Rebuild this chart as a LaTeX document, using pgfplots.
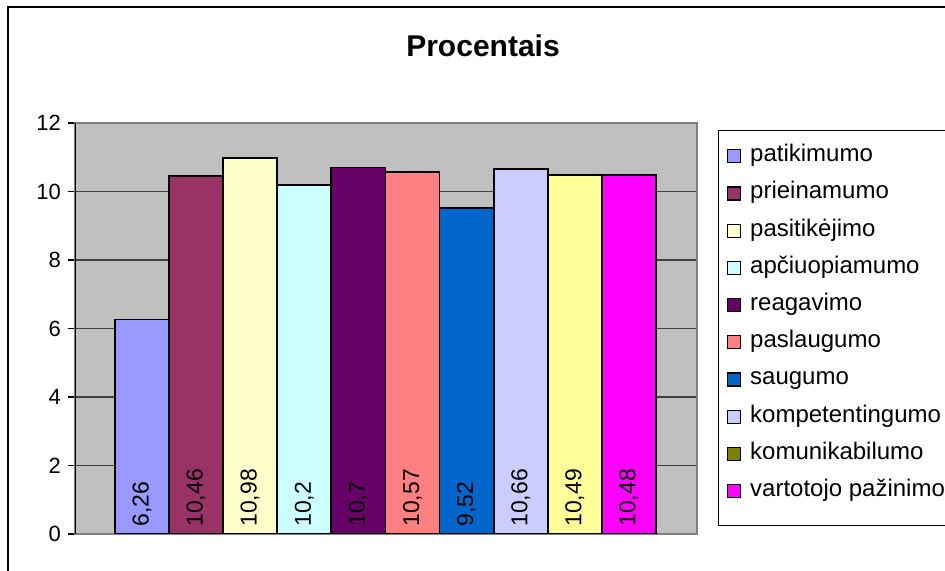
\documentclass[border=0pt]{standalone}
\usepackage{fontspec}
\setmainfont{Liberation Sans}
\usepackage{pgfplots}
\usepackage{pgfplotstable}
\pgfplotsset{compat=1.18}

% series colours
\definecolor{cPat}{HTML}{9999FF}
\definecolor{cPri}{HTML}{993366}
\definecolor{cPas}{HTML}{FFFFCC}
\definecolor{cApc}{HTML}{CCFFFF}
\definecolor{cRea}{HTML}{660066}
\definecolor{cPsl}{HTML}{FF8080}
\definecolor{cSau}{HTML}{0066CC}
\definecolor{cKmp}{HTML}{CCCCFF}
\definecolor{cKomBar}{HTML}{FFFF99}
\definecolor{cKom}{HTML}{808000}
\definecolor{cVar}{HTML}{FF00FF}
\definecolor{plotgray}{HTML}{C0C0C0}
\definecolor{framegray}{HTML}{808080}

% one row per quality dimension: bar position and percentage
\pgfplotstableread{
x v
1 6.26
2 10.46
3 10.98
4 10.2
5 10.7
6 10.57
7 9.52
8 10.66
9 10.49
10 10.48
}\scores

\begin{document}
\begin{tikzpicture}[x=1pt,y=1pt]
\useasboundingbox (0,0) rectangle (472.5,285.5);
\clip (0,0) rectangle (472.5,285.5);
% chart frame
\draw[line width=1.2pt] (4,-20) rectangle (520,282);
% title
\node[font=\fontsize{15}{18}\selectfont\bfseries, anchor=base, inner sep=0pt] at (241.5,257) {Procentais};
% legend box
\draw[line width=0.5pt, fill=white] (359,22.5) rectangle (520,220);
\begin{axis}[
  at={(37.5pt,18.5pt)}, anchor=south west,
  scale only axis, width=311pt, height=205.5pt,
  xmin=-0.238, xmax=11.259, ymin=0, ymax=12,
  xtick=\empty, ytick={0,2,...,12}, ytick pos=left,
  ymajorgrids, major grid style={black!75, line width=0.6pt},
  tick align=outside, major tick length=3.5pt,
  ytick style={black, line width=0.6pt},
  axis line style={draw=framegray, line width=0.8pt},
  axis background/.style={fill=plotgray},
  /pgf/number format/assume math mode=true,
  /pgf/number format/use comma,
  yticklabel style={font=\fontsize{11}{13}\selectfont},
  col/.style={ybar, bar width=1, bar shift=0pt, draw=black, line width=0.9pt},
  legend image code/.code={\draw[#1, draw=black, line width=0.6pt] (0pt,-3.25pt) rectangle (6.5pt,3.25pt);},
  legend style={at={(1.0482,0.9642)}, anchor=north west, draw=none, fill=none,
    inner sep=0pt, outer sep=0pt, row sep=0pt, column sep=4.5pt,
    font=\fontsize{12}{14}\selectfont, cells={anchor=west},
    nodes={inner sep=0pt, text height=12pt, text depth=6.6pt}},
]
\addplot[col, fill=cPat, restrict x to domain=1:1] table[x=x,y=v]{\scores};
\addlegendentry{patikimumo}
\addplot[col, fill=cPri, restrict x to domain=2:2] table[x=x,y=v]{\scores};
\addlegendentry{prieinamumo}
\addplot[col, fill=cPas, restrict x to domain=3:3] table[x=x,y=v]{\scores};
\addlegendentry{pasitikėjimo}
\addplot[col, fill=cApc, restrict x to domain=4:4] table[x=x,y=v]{\scores};
\addlegendentry{apčiuopiamumo}
\addplot[col, fill=cRea, restrict x to domain=5:5] table[x=x,y=v]{\scores};
\addlegendentry{reagavimo}
\addplot[col, fill=cPsl, restrict x to domain=6:6] table[x=x,y=v]{\scores};
\addlegendentry{paslaugumo}
\addplot[col, fill=cSau, restrict x to domain=7:7] table[x=x,y=v]{\scores};
\addlegendentry{saugumo}
\addplot[col, fill=cKmp, restrict x to domain=8:8] table[x=x,y=v]{\scores};
\addlegendentry{kompetentingumo}
\addplot[col, fill=cKomBar, restrict x to domain=9:9, legend image post style={fill=cKom}] table[x=x,y=v]{\scores};
\addlegendentry{komunikabilumo}
\addplot[col, fill=cVar, restrict x to domain=10:10] table[x=x,y=v]{\scores};
\addlegendentry{vartotojo pažinimo}
% value labels, set upright along the foot of each bar
\addplot[forget plot, draw=none, mark=none, point meta=explicit,
  nodes near coords,
  nodes near coords style={rotate=90, anchor=west, inner sep=0pt, font=\fontsize{11.5}{13}\selectfont}]
  table[x=x, y expr=0.2, meta=v]{\scores};
\draw[black, line width=0.8pt] (rel axis cs:0,0) -- (rel axis cs:0,1);
\end{axis}
\end{tikzpicture}
\end{document}
